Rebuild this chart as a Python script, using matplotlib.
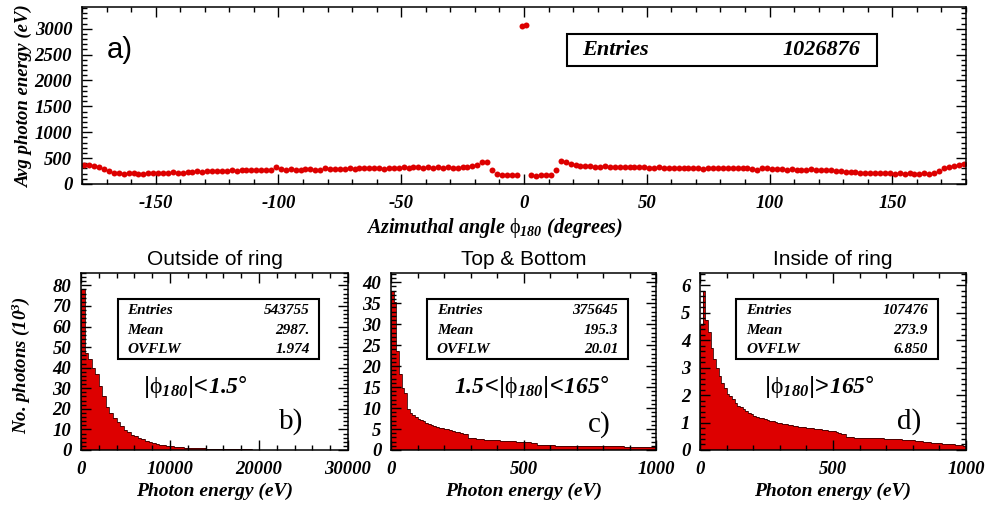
import numpy as np
import matplotlib
matplotlib.use('Agg')
import matplotlib.pyplot as plt
from matplotlib.patches import Rectangle
from matplotlib.ticker import MultipleLocator

plt.rcParams['axes.unicode_minus'] = False
plt.rcParams['mathtext.fontset'] = 'custom'
plt.rcParams['mathtext.rm'] = 'Liberation Serif'
plt.rcParams['mathtext.sf'] = 'Liberation Sans'
plt.rcParams['mathtext.it'] = 'Liberation Serif:italic:bold'
plt.rcParams['mathtext.bf'] = 'Liberation Serif:bold'
plt.rcParams['mathtext.bfit'] = 'Liberation Serif:italic:bold'

# Datos: energía promedio vs ángulo azimutal (bins de 2 grados)
phi = np.arange(-179, 180, 2)
avg_e = [370, 365, 350, 320, 290, 250, 220, 205, 200, 205,
         205, 200, 200, 205, 205, 210, 210, 215, 225, 215,
         220, 225, 235, 245, 230, 250, 255, 255, 260, 260,
         265, 260, 270, 270, 270, 270, 275, 270, 275, 320,
         285, 280, 285, 280, 280, 290, 290, 280, 275, 300,
         290, 290, 290, 295, 305, 290, 300, 300, 305, 300,
         300, 290, 305, 305, 310, 320, 310, 320, 320, 310,
         325, 315, 320, 310, 320, 310, 315, 320, 330, 350,
         370, 420, 420, 270, 190, 170, 170, 170, 165, 3060,
         3080, 165, 160, 165, 170, 180, 280, 440, 430, 390,
         370, 350, 345, 340, 335, 335, 340, 335, 330, 330,
         330, 330, 335, 330, 325, 305, 310, 320, 305, 305,
         310, 305, 310, 310, 300, 310, 295, 310, 305, 300,
         315, 315, 310, 300, 305, 300, 290, 270, 300, 305,
         290, 285, 290, 280, 290, 280, 275, 280, 285, 275,
         280, 270, 265, 250, 255, 240, 240, 230, 220, 215,
         220, 215, 215, 210, 210, 200, 205, 200, 205, 200,
         200, 205, 200, 220, 260, 300, 320, 350, 370, 395]

# Histograma b) |phi|<1.5 (bins de 400 eV), unidades 10^3
edges_b = np.arange(0, 20001, 400)
cnt_b = [78, 47, 44, 40, 37, 31, 26, 21, 18, 15.5,
         13.5, 11.5, 9.5, 8.5, 7.5, 6.8, 6.0, 5.2, 4.6, 4.0,
         3.4, 3.0, 2.6, 2.3, 2.1, 1.8, 1.6, 1.4, 1.3, 1.2,
         1.1, 1.0, 0.9, 0.8, 0.75, 0.7, 0.65, 0.6, 0.55, 0.5,
         0.45, 0.42, 0.38, 0.35, 0.32, 0.3, 0.28, 0.25, 0.22, 0.2]

# Histograma c) 1.5<|phi|<165 (bins de 10 eV)
edges_c = np.arange(0, 1001, 10)
cnt_c = [38, 35.3, 23.5, 18, 14.8, 13.5, 9.8, 8.8, 8.3, 7.9,
         7.5, 7.2, 6.9, 6.5, 6.2, 6.0, 5.7, 5.5, 5.3, 5.2,
         5.0, 4.9, 4.7, 4.5, 4.4, 4.3, 4.1, 3.9, 3.8, 2.9,
         2.8, 2.8, 2.7, 2.7, 2.6, 2.5, 2.5, 2.4, 2.4, 2.3,
         2.3, 2.25, 2.2, 2.2, 2.15, 2.1, 2.05, 2.0, 2.0, 1.9,
         1.9, 1.85, 1.8, 1.6, 1.6, 1.2, 1.15, 1.15, 1.1, 1.1,
         1.1, 1.1, 1.05, 1.05, 1.05, 1.0, 1.05, 1.0, 1.0, 1.0,
         1.0, 0.95, 0.95, 0.95, 0.95, 0.9, 0.95, 0.9, 0.9, 0.9,
         0.9, 0.9, 0.85, 0.85, 0.85, 0.85, 0.85, 0.85, 0.8, 0.8,
         0.8, 0.8, 0.8, 0.8, 0.8, 0.8, 0.75, 0.75, 0.75, 0.75]

# Histograma d) |phi|>165 (bins de 10 eV)
edges_d = np.arange(0, 1001, 10)
cnt_d = [4.55, 5.8, 4.75, 4.3, 3.7, 3.3, 3.0, 2.7, 2.45, 2.25,
         2.05, 1.95, 1.85, 1.7, 1.62, 1.55, 1.5, 1.42, 1.35, 1.3,
         1.25, 1.22, 1.18, 1.15, 1.12, 1.1, 1.07, 1.05, 1.02, 1.0,
         0.97, 0.95, 0.93, 0.92, 0.9, 0.88, 0.87, 0.85, 0.84, 0.82,
         0.81, 0.8, 0.79, 0.77, 0.76, 0.75, 0.73, 0.72, 0.7, 0.71,
         0.68, 0.66, 0.63, 0.6, 0.58, 0.47, 0.46, 0.46, 0.45, 0.45,
         0.45, 0.44, 0.44, 0.44, 0.43, 0.43, 0.43, 0.42, 0.42, 0.41,
         0.41, 0.4, 0.4, 0.4, 0.39, 0.39, 0.38, 0.38, 0.37, 0.36,
         0.35, 0.34, 0.33, 0.31, 0.3, 0.29, 0.28, 0.27, 0.26, 0.25,
         0.24, 0.23, 0.22, 0.22, 0.21, 0.2, 0.19, 0.18, 0.17, 0.16]

titles = ['Outside of ring', 'Top & Bottom', 'Inside of ring']
stats = [('543755', '2987.', '1.974'),
         ('375645', '195.3', '20.01'),
         ('107476', '273.9', '6.850')]
cuts = [r'$\mathsf{|}\mathrm{\phi}_{\mathbfit{180}}\mathsf{|}\!\mathsf{<}\!\mathbfit{1.5}\mathsf{°}$',
        r'$\mathbfit{1.5}\!\mathsf{<}\!\mathsf{|}\mathrm{\phi}_{\mathbfit{180}}\mathsf{|}\!\mathsf{<}\!\mathbfit{165}\mathsf{°}$',
        r'$\mathsf{|}\mathrm{\phi}_{\mathbfit{180}}\mathsf{|}\!\mathsf{>}\!\mathbfit{165}\mathsf{°}$']
letters = ['b)', 'c)', 'd)']

red = '#dd0000'
bi = dict(family='Liberation Serif', weight='bold', style='italic')

def estilo(ax, xmin, ymin):
    ax.tick_params(which='both', direction='in', top=True, right=True, width=1)
    ax.tick_params(which='major', length=7)
    ax.tick_params(which='minor', length=3.5)
    ax.tick_params(axis='x', which='major', pad=8)
    ax.tick_params(axis='y', which='major', pad=7)
    ax.xaxis.set_minor_locator(MultipleLocator(xmin))
    ax.yaxis.set_minor_locator(MultipleLocator(ymin))
    for lb in ax.get_xticklabels() + ax.get_yticklabels():
        lb.set_fontfamily('Liberation Serif'); lb.set_fontweight('bold')
        lb.set_fontstyle('italic'); lb.set_fontsize(13.5)
    for s in ax.spines.values():
        s.set_linewidth(1.1)

fig = plt.figure(figsize=(9.85, 5.08), dpi=100)

# Panel a)
ax = fig.add_axes([0.0832, 0.6378, 0.8975, 0.3484])
ax.plot(phi, avg_e, 'o', color=red, markersize=4.3, markeredgewidth=0)
ax.set_xlim(-180, 180); ax.set_ylim(0, 3420)
ax.set_xticks(np.arange(-150, 151, 50)); ax.set_yticks(np.arange(0, 3001, 500))
estilo(ax, 10, 100)
ax.set_ylabel('Avg photon energy (eV)', fontsize=13.5, **bi)
ax.yaxis.set_label_coords(-0.055, 0.5)
ax.set_xlabel(r'Azimuthal angle $\mathrm{\phi}_{\mathbfit{180}}$ (degrees)', fontsize=14.5, **bi)
ax.xaxis.set_label_coords(0.467, -0.18)
ax.add_patch(Rectangle((0.5487, 0.6667), 0.3506, 0.1808, transform=ax.transAxes,
                       fill=False, lw=1.5, ec='black'))
ax.text(0.566, 0.757, 'Entries', transform=ax.transAxes, ha='left', va='center', fontsize=16, **bi)
ax.text(0.881, 0.757, '1026876', transform=ax.transAxes, ha='right', va='center', fontsize=16, **bi)
ax.text(0.043, 0.757, 'a)', transform=ax.transAxes, ha='center', va='center',
        fontsize=21, family='Liberation Sans')

# Paneles b), c), d)
lefts = [0.0822, 0.397, 0.7107]
widths = [0.2711, 0.269, 0.270]
hist = [(edges_b, cnt_b, 30000, 86, 10000, 2000, 10, 2),
        (edges_c, cnt_c, 1000, 42.2, 500, 100, 5, 1),
        (edges_d, cnt_d, 1000, 6.45, 500, 100, 1, 0.2)]
cut_x = [0.43, 0.532, 0.449]
let_y = [0.158, 0.145, 0.158]

for i in range(3):
    edges, cnt, xmax, ymax, xmaj, xmin, ymaj, ymin = hist[i]
    ax = fig.add_axes([lefts[i], 0.1142, widths[i], 0.3484])
    ax.stairs(cnt, edges, fill=True, color=red)
    ax.stairs(cnt, edges, color='#3a0000', lw=0.6)
    ax.set_xlim(0, xmax); ax.set_ylim(0, ymax)
    ax.set_xticks(np.arange(0, xmax + 1, xmaj))
    ax.set_yticks(np.arange(0, ymax, ymaj))
    estilo(ax, xmin, ymin)
    ax.set_xlabel('Photon energy (eV)', fontsize=14, **bi)
    ax.xaxis.set_label_coords(0.5, -0.186)
    ax.set_title(titles[i], fontsize=15, family='Liberation Sans', pad=6)
    ax.add_patch(Rectangle((0.137, 0.514), 0.756, 0.339, transform=ax.transAxes,
                           fill=False, lw=1.5, ec='black'))
    for lab, val, yy in zip(['Entries', 'Mean', 'OVFLW'], stats[i], [0.787, 0.674, 0.569]):
        ax.text(0.173, yy, lab, transform=ax.transAxes, ha='left', va='center', fontsize=11, **bi)
        ax.text(0.857, yy, val, transform=ax.transAxes, ha='right', va='center', fontsize=11, **bi)
    ax.text(cut_x[i], 0.356, cuts[i], transform=ax.transAxes, ha='center', va='center', fontsize=17)
    ax.text(0.786, let_y[i], letters[i], transform=ax.transAxes, ha='center', va='center',
            fontsize=21, family='Liberation Serif')
    if i == 0:
        ax.set_ylabel(r'No. photons (10$^{\mathbfit{3}}$)', fontsize=13.5, **bi)
        ax.yaxis.set_label_coords(-0.1835, 0.48)

fig.savefig('out.png', dpi=100)
